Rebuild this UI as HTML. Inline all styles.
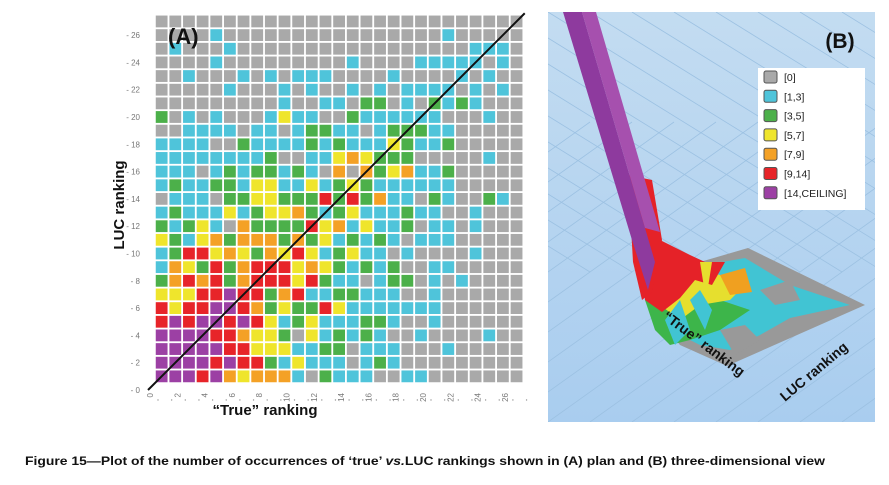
<!DOCTYPE html>
<html><head><meta charset="utf-8"><style>
html,body{margin:0;padding:0;background:#fff;width:889px;height:485px;overflow:hidden;font-family:"Liberation Sans",sans-serif}
svg{position:absolute;left:0;top:0}
</style></head><body>
<svg id="chart" width="889" height="485" viewBox="0 0 889 485">
<g id="panelA"></g>
<g id="panelB">
  <defs><clipPath id="bclip"><rect x="548" y="12" width="327" height="410"/></clipPath>
  <linearGradient id="bgg" x1="0" y1="0" x2="0" y2="1"><stop offset="0" stop-color="#c3dcf1"/><stop offset="1" stop-color="#a9cdef"/></linearGradient></defs>
  <rect x="548" y="12" width="327" height="410" fill="url(#bgg)"/>
  <g clip-path="url(#bclip)" stroke="#9cc1e2" stroke-width="0.8" id="bgrid"></g>
  <g clip-path="url(#bclip)">
    <polygon points="748,248 865,305 727,366 680,345 660,320 700,262" fill="#999"/>
    <polygon points="705,265 745,258 790,285 850,305 790,318 760,335 730,350 700,345 670,330" fill="#41c4d3"/>
    <polygon points="760,290 790,280 800,300 775,305" fill="#999"/>
    <polygon points="720,330 745,325 760,340 735,355" fill="#999"/>
    <polygon points="645,300 690,290 720,300 750,310 720,330 690,340 670,345 655,330" fill="#3db54a"/>
    <polygon points="650,275 680,265 720,275 745,285 730,300 700,305 680,320 660,305" fill="#e6df2e"/>
    <polygon points="690,300 700,290 712,310 705,330" fill="#41c4d3"/>
    <polygon points="665,320 680,300 690,330 675,345" fill="#41c4d3"/>
    <polygon points="720,275 745,268 752,292 730,295" fill="#f0a020"/>
    <polygon points="640,250 660,240 690,255 705,262 725,262 712,285 695,280 680,298 662,312 645,300" fill="#e52228"/>
    <polygon points="700,262 712,262 706,300" fill="#e6df2e"/>
    <polygon points="628,175 652,180 662,240 652,292 642,300 633,262" fill="#e52228"/>
    <polygon points="563,12 582,12 645,228 655,262 648,290 632,240" fill="#8e3a9e"/>
    <polygon points="582,12 596,12 660,232 645,228" fill="#a650ae"/>
  </g>
  <text x="840" y="48" font-size="21" font-weight="bold" text-anchor="middle" fill="#111">(B)</text>
  <g>
    <rect x="758" y="68" width="107" height="142" fill="#fff"/>
    <g id="legendItems"></g>
  </g>
  <text transform="translate(662,318) rotate(37)" font-size="14" font-weight="bold" fill="#111">“True” ranking</text>
  <text transform="translate(785,402) rotate(-40)" font-size="14" font-weight="bold" fill="#111">LUC ranking</text>
</g>
<text x="25" y="465" font-size="12.3" font-weight="bold" fill="#111" textLength="800" lengthAdjust="spacingAndGlyphs">Figure 15—Plot of the number of occurrences of ‘true’ <tspan font-style="italic">vs.</tspan>LUC rankings shown in (A) plan and (B) three-dimensional view</text>
</svg>
<script>
// rows from top (LUC 27) to bottom (LUC 1); columns True 1..27; codes 0..6 = legend bins
const rows = [
"000000000000000000000000000",
"000010000000000000000100000",
"010001000000000000000001110",
"000010000000001000011111010",
"001000101011100001000010100",
"000001000101001010111101010",
"000000000100110220102121000",
"201010001311002111111000100",
"001111011012211012221100000",
"111100211112121113211200000",
"111111112001134322200000100",
"111012122121040423411200000",
"121122133113123211111100000",
"011102233222525241102100210",
"121113123342123111211001000",
"212310422225341311201101000",
"321342444242312121011100000",
"125534324353123110100001000",
"143252455534321212001100000",
"245452455535211012201010000",
"333556552451122111001000000",
"535566542322531111111000000",
"565665653123111221001000000",
"666655433203121210010000100",
"666665533311220111000100000",
"666656552131110121000000000",
"666564344410211100110000000"
];
const binLabels = ["[0]","[1,3]","[3,5]","[5,7]","[7,9]","[9,14]","[14,CEILING]"];
const binColors = ["#a9a9a9","#4fc4da","#4cb04a","#efe52c","#f4a126","#e72429","#9c40a4"];
const xTicks = [0,2,4,6,8,10,12,14,16,18,20,22,24,26];
const yTicks = [0,2,4,6,8,10,12,14,16,18,20,22,24,26];
const NS = "http://www.w3.org/2000/svg";
const X = v => 148 + 13.65 * v;
const Y = v => 390 - 13.65 * v;
function mk(tag, attrs, parent){const e=document.createElementNS(NS,tag);for(const k in attrs)e.setAttribute(k,attrs[k]);parent.appendChild(e);return e;}
const A = document.getElementById("panelA");
const nRows = rows.length;
rows.forEach((r, i) => {
  const luc = nRows - i;
  for (let c = 0; c < r.length; c++) {
    const tr = c + 1;
    const rect = mk("rect", {x: X(tr) - 5.9, y: Y(luc) - 5.9, width: 11.8, height: 11.8, fill: binColors[+r[c]]}, A);
    
    
  }
});
const diag = mk("line", {x1: X(0), y1: Y(0), x2: X(27.6), y2: Y(27.6), stroke: "#111", "stroke-width": 2}, A);


yTicks.forEach(v => {
  const t = mk("text", {x: 140, y: Y(v) + 3, "font-size": 8, fill: "#777", "text-anchor": "end"}, A);
  t.textContent = "- " + v;
  
  
});
xTicks.forEach(v => {
  const t = mk("text", {transform: `translate(${X(v) + 5},393) rotate(-90)`, "font-size": 8, fill: "#777", "text-anchor": "end"}, A);
  t.textContent = v;
  
  
});
for (let v = 0; v <= 27; v++) {
  const d = mk("circle", {cx: X(v) + 10, cy: 400, r: 0.7, fill: "#999"}, A);
  
  
}
const lA = mk("text", {x: 168, y: 44, "font-size": 22, "font-weight": "bold", fill: "#111"}, A);
lA.textContent = "(A)";


const xt = mk("text", {x: 265, y: 415, "font-size": 15, "font-weight": "bold", fill: "#111", "text-anchor": "middle"}, A);
xt.textContent = "“True” ranking";


const yt = mk("text", {transform: "translate(124,205) rotate(-90)", "font-size": 15, "font-weight": "bold", fill: "#111", "text-anchor": "middle"}, A);
yt.textContent = "LUC ranking";


// floor grid lines (panel B)
const G = document.getElementById("bgrid");
for (let k = -14; k < 18; k++) {
  const l1 = mk("line", {x1: 548 + k * 42, y1: 12, x2: 548 + k * 42 + 420, y2: 12 + 260}, G);
  
  
  const l2 = mk("line", {x1: 548 + k * 42, y1: 422, x2: 548 + k * 42 + 420, y2: 422 - 300}, G);
  
  
}
const L = document.getElementById("legendItems");
binLabels.forEach((lab, i) => {
  const y = 77 + i * 19.3;
  const sw = mk("rect", {x: 764, y: y - 6, width: 13, height: 12, rx: 2, fill: binColors[i], stroke: "#555", "stroke-width": 1}, L);
  
  
  const t = mk("text", {x: 784, y: y + 4, "font-size": 10.5, fill: "#222"}, L);
  t.textContent = lab;
  
  
});
</script>
</body></html>
